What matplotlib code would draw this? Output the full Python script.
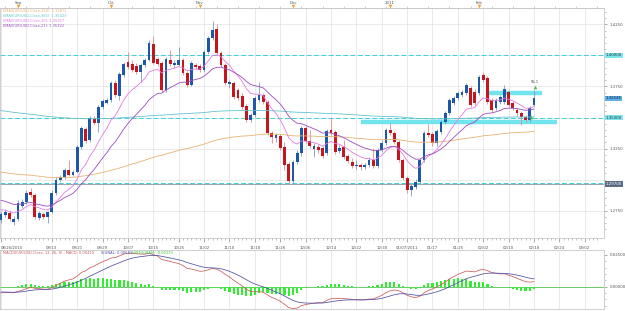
import numpy as np
import pandas as pd
import matplotlib
matplotlib.use("Agg")
import matplotlib.pyplot as plt

# ---------------- data (EUR/USD daily, 26 Aug 2010 - 18 Feb 2011) ----------------
opens = [1.2675, 1.2716, 1.2732, 1.2659, 1.2684, 1.2788, 1.2820, 1.2901, 1.2877, 1.2692,
         1.2724, 1.2700, 1.2740, 1.2893, 1.2997, 1.3022, 1.3078, 1.3038, 1.3062, 1.3263,
         1.3408, 1.3319, 1.3488, 1.3456, 1.3585, 1.3617, 1.3641, 1.3778, 1.3673, 1.3842,
         1.3947, 1.3931, 1.3915, 1.3866, 1.3923, 1.3963, 1.4091, 1.3971, 1.3939, 1.3721,
         1.3963, 1.3923, 1.3923, 1.3963, 1.3858, 1.3762, 1.3923, 1.3915, 1.3882, 1.4027,
         1.4140, 1.4212, 1.4019, 1.3923, 1.3770, 1.3778, 1.3721, 1.3673, 1.3593, 1.3480,
         1.3520, 1.3641, 1.3681, 1.3625, 1.3376, 1.3335, 1.3351, 1.3263, 1.3126, 1.2989,
         1.3142, 1.3214, 1.3416, 1.3311, 1.3247, 1.3263, 1.3255, 1.3214, 1.3400, 1.3384,
         1.3231, 1.3263, 1.3190, 1.3142, 1.3110, 1.3118, 1.3102, 1.3118, 1.3158, 1.3110,
         1.3239, 1.3295, 1.3400, 1.3376, 1.3303, 1.3158, 1.3014, 1.2917, 1.2941, 1.2981,
         1.3158, 1.3376, 1.3367, 1.3295, 1.3384, 1.3464, 1.3536, 1.3617, 1.3657, 1.3681,
         1.3697, 1.3738, 1.3705, 1.3697, 1.3842, 1.3818, 1.3641, 1.3577, 1.3625, 1.3625,
         1.3705, 1.3617, 1.3560, 1.3536, 1.3504, 1.3480, 1.3601]
highs = [1.2748, 1.2764, 1.2756, 1.2708, 1.2836, 1.2845, 1.2917, 1.2933, 1.2893, 1.2748,
         1.2740, 1.2748, 1.2917, 1.3022, 1.3038, 1.3094, 1.3158, 1.3078, 1.3279, 1.3432,
         1.3424, 1.3512, 1.3512, 1.3601, 1.3649, 1.3657, 1.3794, 1.3802, 1.3866, 1.3947,
         1.4027, 1.3963, 1.3939, 1.3939, 1.3979, 1.4124, 1.4156, 1.3987, 1.3955, 1.3987,
         1.4043, 1.3963, 1.4067, 1.3979, 1.3874, 1.3955, 1.3939, 1.3931, 1.4043, 1.4156,
         1.4277, 1.4252, 1.4035, 1.3939, 1.3802, 1.3794, 1.3738, 1.3697, 1.3609, 1.3536,
         1.3673, 1.3786, 1.3697, 1.3641, 1.3392, 1.3376, 1.3367, 1.3303, 1.3142, 1.3158,
         1.3239, 1.3432, 1.3432, 1.3400, 1.3295, 1.3287, 1.3271, 1.3408, 1.3496, 1.3400,
         1.3279, 1.3319, 1.3206, 1.3174, 1.3158, 1.3134, 1.3134, 1.3182, 1.3255, 1.3255,
         1.3319, 1.3416, 1.3456, 1.3392, 1.3319, 1.3174, 1.3030, 1.2965, 1.3005, 1.3174,
         1.3392, 1.3448, 1.3384, 1.3408, 1.3480, 1.3552, 1.3657, 1.3673, 1.3713, 1.3721,
         1.3778, 1.3754, 1.3729, 1.3842, 1.3866, 1.3834, 1.3657, 1.3657, 1.3681, 1.3762,
         1.3721, 1.3633, 1.3577, 1.3552, 1.3520, 1.3593, 1.3721]
lows = [1.2651, 1.2700, 1.2667, 1.2635, 1.2667, 1.2772, 1.2804, 1.2861, 1.2684, 1.2675,
        1.2684, 1.2651, 1.2732, 1.2877, 1.2981, 1.3005, 1.3030, 1.3030, 1.3054, 1.3247,
        1.3295, 1.3303, 1.3440, 1.3384, 1.3569, 1.3609, 1.3625, 1.3665, 1.3641, 1.3826,
        1.3890, 1.3866, 1.3850, 1.3786, 1.3907, 1.3955, 1.3931, 1.3915, 1.3705, 1.3705,
        1.3915, 1.3898, 1.3915, 1.3842, 1.3746, 1.3754, 1.3890, 1.3866, 1.3866, 1.4011,
        1.4124, 1.4003, 1.3907, 1.3762, 1.3738, 1.3649, 1.3641, 1.3569, 1.3464, 1.3464,
        1.3504, 1.3625, 1.3609, 1.3359, 1.3295, 1.3303, 1.3239, 1.3078, 1.2965, 1.2973,
        1.3126, 1.3190, 1.3295, 1.3255, 1.3182, 1.3214, 1.3174, 1.3198, 1.3359, 1.3206,
        1.3214, 1.3166, 1.3134, 1.3094, 1.3086, 1.3078, 1.3086, 1.3102, 1.3094, 1.3094,
        1.3222, 1.3279, 1.3359, 1.3287, 1.3142, 1.2997, 1.2893, 1.2869, 1.2925, 1.2965,
        1.3142, 1.3343, 1.3271, 1.3271, 1.3367, 1.3448, 1.3520, 1.3601, 1.3641, 1.3665,
        1.3681, 1.3585, 1.3601, 1.3681, 1.3786, 1.3609, 1.3544, 1.3560, 1.3609, 1.3609,
        1.3585, 1.3560, 1.3512, 1.3440, 1.3464, 1.3464, 1.3593]
closes = [1.2724, 1.2740, 1.2684, 1.2684, 1.2812, 1.2820, 1.2893, 1.2877, 1.2700, 1.2732,
          1.2700, 1.2740, 1.2893, 1.2997, 1.3022, 1.3078, 1.3038, 1.3062, 1.3263, 1.3416,
          1.3311, 1.3496, 1.3456, 1.3585, 1.3633, 1.3641, 1.3778, 1.3681, 1.3850, 1.3931,
          1.3907, 1.3882, 1.3866, 1.3923, 1.3963, 1.4100, 1.3939, 1.3931, 1.3721, 1.3971,
          1.3931, 1.3939, 1.3963, 1.3858, 1.3762, 1.3939, 1.3907, 1.3882, 1.4027, 1.4140,
          1.4204, 1.4019, 1.3923, 1.3778, 1.3786, 1.3665, 1.3657, 1.3585, 1.3480, 1.3520,
          1.3657, 1.3681, 1.3625, 1.3376, 1.3343, 1.3359, 1.3255, 1.3118, 1.2989, 1.3142,
          1.3214, 1.3416, 1.3311, 1.3271, 1.3271, 1.3239, 1.3190, 1.3392, 1.3376, 1.3222,
          1.3255, 1.3182, 1.3150, 1.3110, 1.3118, 1.3102, 1.3118, 1.3158, 1.3110, 1.3239,
          1.3295, 1.3400, 1.3376, 1.3303, 1.3158, 1.3014, 1.2917, 1.2949, 1.2981, 1.3158,
          1.3376, 1.3359, 1.3295, 1.3392, 1.3464, 1.3536, 1.3641, 1.3657, 1.3697, 1.3705,
          1.3762, 1.3601, 1.3617, 1.3826, 1.3802, 1.3625, 1.3560, 1.3641, 1.3665, 1.3729,
          1.3601, 1.3577, 1.3536, 1.3504, 1.3480, 1.3577, 1.3655]

first_date = "2010-08-26"
future_labels = ["02/24", "03/02"]
month_labels = ["Sep", "Oct", "Nov", "Dec", "2011", "Feb"]

# indicator settings (from the legend) and their values just before the first bar
ema_specs = [("EMA(EUR/USD.Close,150): 1.33871", 150, 1.3065, "#e8b272"),
             ("EMA(EUR/USD.Close,365): 1.35029", 365, 1.3560, "#62c4cc"),
             ("EMA(EUR/USD.Close,10): 1.35917", 10, 1.2765, "#e27ae2"),
             ("EMA(EUR/USD.Close,21): 1.35322", 21, 1.2845, "#9a4cc0")]
macd_seed = (1.2750, 1.2800, -0.0040)   # EMA12, EMA26, signal before first bar
macd_legend = ["MACD(EUR/USD.Close, 12, 26, 9) - MACD: 0.00410", "SIGNAL: 0.00583", "HISTOGRAM: -0.00173"]

# price levels
dashed_levels = [1.4000, 1.3500, 1.2975]
level_labels = [("1.40000", 1.4000, "#7fe6ee", "#1a3a40"),
                ("1.36546", 1.36546, "#5fb0e8", "#102840"),
                ("1.35000", 1.3500, "#7fe6ee", "#1a3a40"),
                ("1.29700", 1.2965, "#5d6c86", "#ffffff")]
support_zone = (1.3460, 85, 131.5)
resist_zone = (1.3695, 115, 128)
price_ticks = [1.4250, 1.3750, 1.3250, 1.2750]
macd_ticks = [0.0, 0.025]

# ---------------- computations ----------------
o = np.array(opens); h = np.array(highs); l = np.array(lows); c = np.array(closes)
n = len(c)
x = np.arange(n)
dates = pd.bdate_range(first_date, periods=n)


def ema(values, span, seed):
    a = 2.0 / (span + 1.0)
    out = np.empty(len(values))
    prev = seed
    for k, v in enumerate(values):
        prev = prev + a * (v - prev)
        out[k] = prev
    return out


ema12 = ema(c, 12, macd_seed[0])
ema26 = ema(c, 26, macd_seed[1])
macd = ema12 - ema26
signal = ema(macd, 9, macd_seed[2])
hist = macd - signal

# ---------------- figure ----------------
W, H = 625, 311
fig = plt.figure(figsize=(W / 100, H / 100), dpi=100)
fig.patch.set_facecolor("white")


def frac(x0, y0, x1, y1):
    return [x0 / W, 1 - y1 / H, (x1 - x0) / W, (y1 - y0) / H]


def px2price(y):
    return 1.44455 - 0.0008045 * y


XL = (-0.25, 142.55)
FS = 2.8
GRID = "#e2e2e2"
SPINE = "#c8c8c8"
TXT = "#555555"

ax = fig.add_axes(frac(0, 8, 604, 238))
axt = fig.add_axes(frac(0, 0, 604, 8))
axm = fig.add_axes(frac(0, 250, 604, 309))

for a in (ax, axt, axm):
    a.set_xlim(*XL)
    for s in a.spines.values():
        s.set_color(SPINE)
        s.set_linewidth(0.6)

ax.set_ylim(px2price(238), px2price(8))

# grids
vgrid = np.arange(0, 142, 6)
for a in (ax, axm):
    for g in vgrid:
        a.axvline(g, color=GRID, lw=0.5, zorder=0)
for p in np.arange(1.2750, 1.43, 0.025):
    ax.axhline(p, color=GRID, lw=0.5, zorder=0)

# dashed levels
for lv in dashed_levels:
    ax.axhline(lv, color="#3fd0d8", lw=0.7, dashes=(5, 2.5), zorder=1)
ax.axhline(1.2965, color="#9aa4b0", lw=0.7, zorder=1)

# support / resistance zones
ax.hlines(support_zone[0], support_zone[1], support_zone[2], color="#72e4ee", lw=3.2, zorder=2)
ax.hlines(resist_zone[0], resist_zone[1], resist_zone[2], color="#72e4ee", lw=3.2, zorder=2)

# EMA lines
for label, span, seed, col in ema_specs:
    ax.plot(x, ema(c, span, seed), color=col, lw=0.6, zorder=5)

# candles
up = c >= o
body_col = np.where(up, "#1d58a8", "#c4161c")
wick_col = np.where(up, "#7a9cc8", "#e08a8a")
ax.vlines(x, l, h, colors=wick_col, lw=0.6, zorder=3)
body_h = np.maximum(np.abs(c - o), 0.0008)
ax.bar(x, body_h, bottom=np.minimum(o, c), width=0.66, color=body_col, linewidth=0, zorder=4)

# signal markers
ax.plot([126.3], [1.3745], marker="^", ms=2.6, color="#56b848", mec="none", zorder=6)
ax.plot([125.4], [1.3503], marker="^", ms=2.6, color="#56b848", mec="none", zorder=6)
ax.text(126.3, 1.3782, "55.1", fontsize=2.6, color="#444444", ha="center", va="center", zorder=6)

# legend text top-left
for k, (label, span, seed, col) in enumerate(ema_specs):
    fig.text(3 / W, 1 - (11 + 5 * k) / H, label, fontsize=2.6, color=col, ha="left", va="center")

# right axis of price panel
ax.yaxis.tick_right()
ax.set_yticks(price_ticks)
ax.set_yticklabels(["%.4f" % p for p in price_ticks])
ax.set_yticks(np.arange(1.26, 1.435, 0.005), minor=True)
ax.tick_params(axis="y", which="major", labelsize=FS, colors="#888888", labelcolor=TXT, length=2, width=0.5, pad=2)
ax.tick_params(axis="y", which="minor", length=1.2, width=0.4, colors="#999999")
y0, y1 = ax.get_ylim()
for txt, val, fc, tc in level_labels:
    ax.text(1.003, (val - y0) / (y1 - y0), txt,
            transform=ax.transAxes, fontsize=FS, color=tc, ha="left", va="center", zorder=10,
            clip_on=False,
            bbox=dict(boxstyle="square,pad=0.15", fc=fc, ec="none"))

# date ticks
tick_pos = [0] + list(range(12, n, 6))
tick_lab = []
for t in tick_pos:
    d = dates[t]
    if t == 0 or (d.month == 1 and dates[t - 6].month == 12):
        tick_lab.append(d.strftime("%m/%d/%Y"))
    else:
        tick_lab.append(d.strftime("%m/%d"))
fut_pos = [tick_pos[-1] + 6 * (k + 1) for k in range(len(future_labels))]
ax.set_xticks(tick_pos + fut_pos)
ax.set_xticklabels(tick_lab + future_labels)
ax.set_xticks(x.tolist() + list(range(n, 142)), minor=True)
ax.tick_params(axis="x", which="major", labelsize=FS, labelcolor=TXT, colors="#888888", length=3, width=0.5, pad=2.5)
ax.tick_params(axis="x", which="minor", length=1.5, width=0.4, colors="#999999")
lbls = ax.get_xticklabels()
lbls[0].set_horizontalalignment("left")

# top month strip
axt.set_ylim(0, 8)
axt.invert_yaxis()
axt.set_xticks(np.arange(1, 142, 5))
axt.tick_params(axis="x", which="major", direction="in", length=1.5, width=0.4, colors="#aaaaaa",
                labelbottom=False, bottom=True, top=False)
axt.set_yticks([])
axt.spines["top"].set_visible(False)
axt.spines["left"].set_visible(False)
axt.spines["right"].set_visible(False)
month_pos = []
prev_m = dates[0].month
for k in range(1, n):
    if dates[k].month != prev_m:
        month_pos.append(k)
    prev_m = dates[k].month
for k, mp in enumerate(month_pos[:len(month_labels)]):
    axt.text(mp, 2.6, month_labels[k], fontsize=FS, color=TXT, ha="center", va="center")
    axt.plot([mp], [6.3], marker="v", ms=2.6, color="#f0a030", mec="none", clip_on=False)

# MACD panel
zero_y, top_y, bot_y, k_px = 286.7, 250, 309, 1268.0
axm.set_ylim(-(bot_y - zero_y) / k_px, (zero_y - top_y) / k_px)
axm.axhline(0, color="#52c452", lw=0.6, zorder=1)
axm.bar(x, hist, width=0.5, color="#2ef02e", linewidth=0, zorder=2)
axm.plot(x, macd, color="#c85a5a", lw=0.55, zorder=3)
axm.plot(x, signal, color="#4e4ea6", lw=0.55, zorder=3)
axm.set_xticks([])
axm.yaxis.tick_right()
axm.set_yticks(macd_ticks)
axm.set_yticklabels(["%.5f" % v for v in macd_ticks])
axm.set_yticks(np.arange(-0.015, 0.03, 0.005), minor=True)
axm.tick_params(axis="y", which="major", labelsize=FS, labelcolor=TXT, colors="#888888", length=2, width=0.5, pad=2)
axm.tick_params(axis="y", which="minor", length=1.2, width=0.4, colors="#999999")

yl = 1 - 253 / H
fig.text(3 / W, yl, macd_legend[0], fontsize=2.6, color="#c85a5a", ha="left", va="center")
fig.text(101 / W, yl, macd_legend[1], fontsize=2.6, color="#4e4ea6", ha="left", va="center")
fig.text(132 / W, yl, macd_legend[2], fontsize=2.6, color="#2ec02e", ha="left", va="center")

fig.savefig("out.png", dpi=100, facecolor="white")
